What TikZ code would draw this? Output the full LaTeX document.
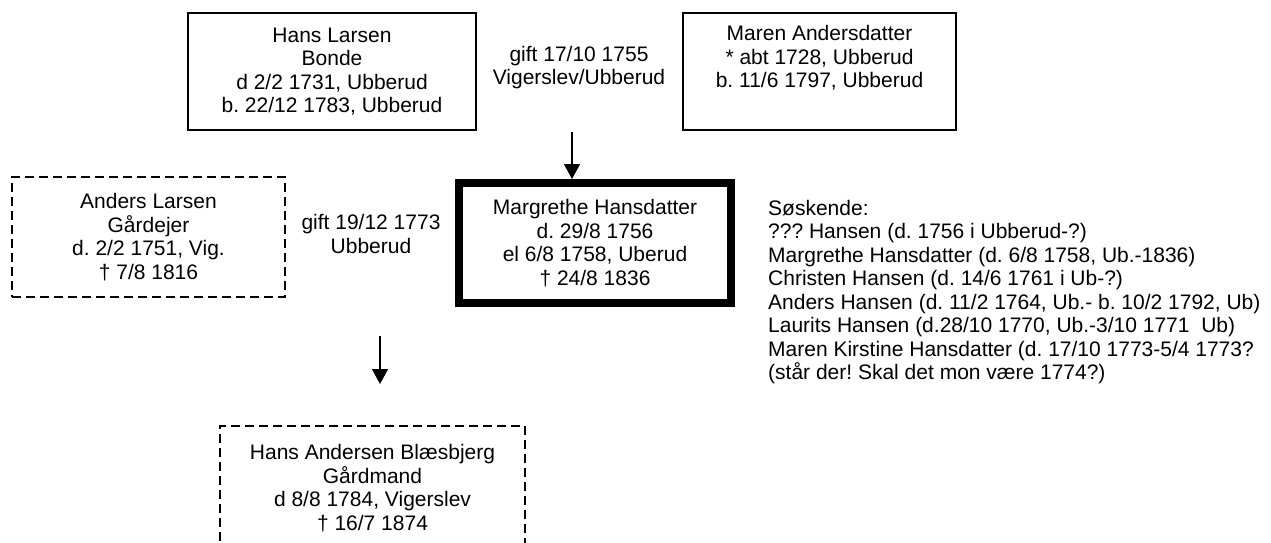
\documentclass[tikz,border=0pt]{standalone}
\usepackage{fontspec}
\setmainfont{Liberation Sans}
\usetikzlibrary{arrows.meta}
\frenchspacing
\begin{document}
\begin{tikzpicture}[x=1pt,y=-1pt,
  every node/.style={font=\frenchspacing\fontsize{21}{23.5}\selectfont, inner sep=0pt},
  solidbox/.style={draw, line width=1.5pt, minimum width=#1, minimum height=117pt, align=center},
  dashbox/.style={draw, line width=2pt, dash pattern=on 9pt off 5pt, minimum width=#1, minimum height=120pt, align=center},
  mainbox/.style={draw, line width=8pt, minimum width=272pt, minimum height=120pt, align=center},
  plain/.style={align=center},
  arr/.style={line width=1.5pt, -{Triangle[length=15pt,width=16pt]}}]
\useasboundingbox (0,0) rectangle (1271,543);
\clip (0,0) rectangle (1271,543);
\fill[white] (0,0) rectangle (1271,543);

\node[solidbox=288pt] (hans) at (332,71.5) {Hans Larsen\\Bonde\\d 2/2 1731, Ubberud\\b. 22/12 1783, Ubberud};
\node[solidbox=273pt, text depth=6pt] (maren) at (819.5,71.5) {Maren Andersdatter\\* abt 1728, Ubberud\\b. 11/6 1797, Ubberud\\ ~};
\node[plain] (gift1) at (579,67.5) {gift 17/10 1755\\Vigerslev/Ubberud};

\node[mainbox] (marg) at (595,243) {Margrethe Hansdatter\\d. 29/8 1756\\el 6/8 1758, Uberud\\† 24/8 1836};
\node[dashbox=273pt] (anders) at (148.5,237) {Anders Larsen\\Gårdejer\\d. 2/2 1751, Vig.\\† 7/8 1816};
\node[plain] (gift2) at (371,234) {gift 19/12 1773\\Ubberud};

\node[dashbox=305pt, minimum height=124pt] (child) at (372.5,488) {Hans Andersen Blæsbjerg\\Gårdmand\\d 8/8 1784, Vigerslev\\† 16/7 1874};

\node[align=left, anchor=north west] (sos) at (768,200) {Søskende:\\
??? Hansen (d. 1756 i Ubberud-?)\\
Margrethe Hansdatter (d. 6/8 1758, Ub.-1836)\\
Christen Hansen (d. 14/6 1761 i Ub-?)\\
Anders Hansen (d. 11/2 1764, Ub.- b. 10/2 1792, Ub)\\
Laurits Hansen (d.28/10 1770, Ub.-3/10 1771\ \ Ub)\\
Maren Kirstine Hansdatter (d. 17/10 1773-5/4 1773?\\
(står der! Skal det mon være 1774?)};

\coordinate (a1) at (572,132);
\draw[arr] (a1) -- (a1 |- marg.north);
\coordinate (a2s) at (380,336);
\coordinate (a2e) at (380,384);
\draw[arr] (a2s) -- (a2e);
\end{tikzpicture}
\end{document}
